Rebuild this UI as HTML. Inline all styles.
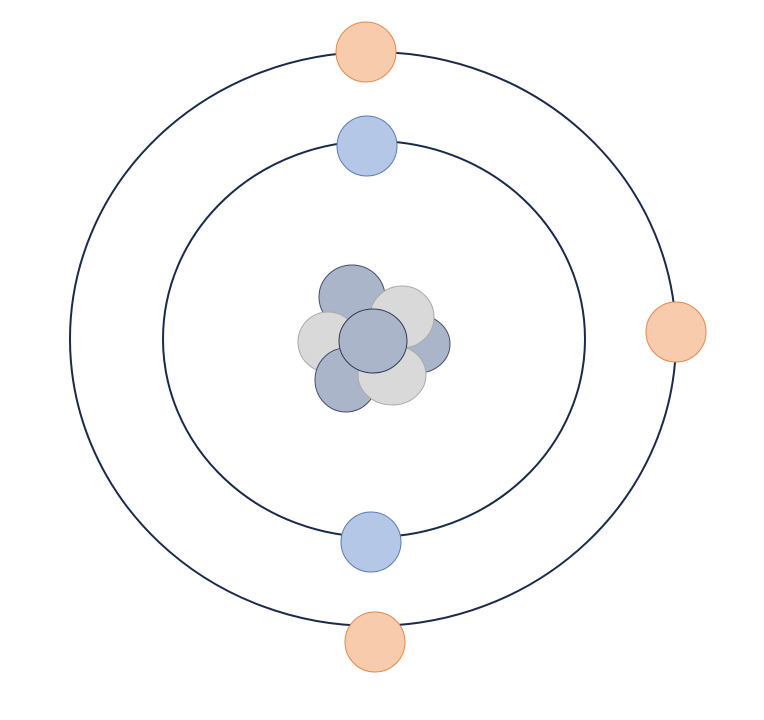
<!DOCTYPE html>
<html><head><meta charset="utf-8"><style>html,body{margin:0;padding:0;background:#fff}svg{display:block}</style></head>
<body>
<svg width="764" height="720" viewBox="0 0 764 720">
<g fill="none" stroke="#1b2a4a" stroke-width="2">
<ellipse cx="373" cy="339" rx="303" ry="287"/>
<ellipse cx="374" cy="339" rx="211" ry="198"/>
</g>
<g stroke-width="1">
<ellipse cx="352" cy="297" rx="33" ry="32" fill="#aab5c9" stroke="#44506a"/>
<ellipse cx="418" cy="344" rx="32" ry="29" fill="#aab5c9" stroke="#44506a"/>
<ellipse cx="328" cy="342" rx="30" ry="30" fill="#d9d9d9" stroke="#aaaaaa"/>
<ellipse cx="402" cy="317" rx="32" ry="31" fill="#d9d9d9" stroke="#aaaaaa"/>
<ellipse cx="346" cy="380" rx="31" ry="32" fill="#aab5c9" stroke="#44506a"/>
<ellipse cx="392" cy="375" rx="34" ry="30" fill="#d9d9d9" stroke="#aaaaaa"/>
<ellipse cx="373" cy="341" rx="34" ry="32" fill="#aab5c9" stroke="#2f3b55"/>
</g>
<g stroke-width="1">
<circle cx="366" cy="52" r="30" fill="#f8cbad" stroke="#e08a4a"/>
<circle cx="676" cy="332" r="30" fill="#f8cbad" stroke="#e08a4a"/>
<circle cx="375" cy="642" r="30" fill="#f8cbad" stroke="#e08a4a"/>
<circle cx="367" cy="146" r="30" fill="#b4c7e7" stroke="#5a7bb5"/>
<circle cx="371" cy="542" r="30" fill="#b4c7e7" stroke="#5a7bb5"/>
</g>
</svg>
</body></html>
